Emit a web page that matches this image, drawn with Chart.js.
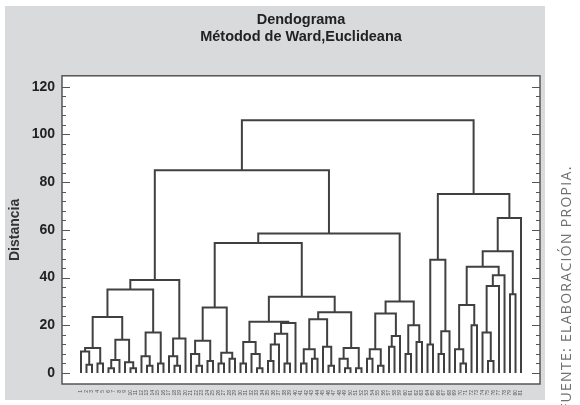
<!DOCTYPE html>
<html>
<head>
<meta charset="utf-8">
<script src="https://cdn.jsdelivr.net/npm/chart.js@4.4.0/dist/chart.umd.min.js"></script>
<style>
  html, body { margin: 0; padding: 0; background: #fff; }
  canvas { display: block; }
</style>
</head>
<body>
<canvas id="dendro" width="580" height="405"></canvas>
<script>
// clusters as [merge distance, left, right]; 0 is a single case
const c1 = [23.5, [10.5, [9, 0, [3.5, 0, 0]], [4, 0, 0]], [14, [5.5, [2, 0, 0], 0], [4.5, 0, [2, 0, 0]]]]
const c2 = [17, [7, 0, [3, 0, 0]], [4, 0, 0]]
const c3 = [14.5, [7, 0, [3, 0, 0]], 0]
const c4 = [27.5, [13.5, [8, 0, [3, 0, 0]], [5, 0, 0]], [8.5, [4, 0, 0], [6, 0, 0]]]
const c5 = [21.5, [13, [4, 0, 0], [8, 0, [2, 0, 0]]], [21, [16.5, [12, [5, 0, 0], 0], [4, 0, 0]], 0]]
const c6 = [25.5, [22.5, [10, [4, 0, 0], [6, 0, 0]], [11, 0, [3, 0, 0]]], [10.5, [6, 0, [2, 0, 0]], [2, 0, 0]]]
const c7a = [25, [10, [6, 0, 0], [3, 0, 0]], [15.5, [11, 0, 0], 0]]
const c7b = [20, [8, 0, 0], [13, 0, 0]]
const c8 = [47.5, [12, 0, 0], [17.5, [8, 0, 0], 0]]
const c9 = [28.5, [10, 0, [4, 0, 0]], [20, 0, 0]]
const c10 = [41, [36.5, [17, 0, [5, 0, 0]], 0], 0]
const c11 = [33, 0, 0]

const leftBranch = [85, [39, [35, c1, c2], c3], [58.5, [54.5, c4, [32, c5, c6]], [30, c7a, c7b]]]
const rightBranch = [75, c8, [65, [51, [44.5, c9, c10], c11], 0]]
const rootDistance = 106

const yTicks = [0, 20, 40, 60, 80, 100, 120]
const yMinorStep = 4

// walk the tree: leaves get consecutive x slots, each merge becomes a U line
const segments = []
const leafLabels = []
function layout(node) {
  if (node === 0) {
    leafLabels.push(String(leafLabels.length + 1))
    return { x: leafLabels.length - 1, y: 0 }
  }
  const [h, l, r] = node
  const a = layout(l)
  const b = layout(r)
  segments.push({ x: a.x, y: a.y }, { x: a.x, y: h }, { x: b.x, y: h }, { x: b.x, y: b.y }, { x: b.x, y: null })
  return { x: (a.x + b.x) / 2, y: h }
}
layout([rootDistance, leftBranch, rightBranch])
const nLeaves = leafLabels.length

const boldFont = '"Liberation Sans", Arial, sans-serif'

const frame = {
  id: 'frame',
  beforeDraw(chart) {
    const { ctx, chartArea: a } = chart
    ctx.save()
    ctx.fillStyle = '#d9dadb'
    ctx.fillRect(5, 6, 540, 394)
    ctx.fillStyle = '#fff'
    ctx.fillRect(a.left, a.top, a.right - a.left, a.bottom - a.top)
    ctx.restore()
  },
  afterDraw(chart) {
    const { ctx, chartArea: a, scales } = chart
    const y = scales.y
    ctx.save()
    ctx.strokeStyle = '#555'
    ctx.lineWidth = 1.5
    ctx.strokeRect(a.left, a.top, a.right - a.left, a.bottom - a.top)
    ctx.lineWidth = 1
    ctx.beginPath()
    for (let v = yTicks[0]; v <= yTicks[yTicks.length - 1]; v += yMinorStep) {
      const py = Math.round(y.getPixelForValue(v)) + 0.5
      const len = yTicks.includes(v) ? 8 : 4
      ctx.moveTo(a.left, py); ctx.lineTo(a.left + len, py)
      ctx.moveTo(a.right, py); ctx.lineTo(a.right - len, py)
    }
    ctx.stroke()
    // source note on the right margin
    ctx.translate(567, 411)
    ctx.rotate(-Math.PI / 2)
    ctx.font = '14px "Open Sans"'
    ctx.letterSpacing = '1.3px'
    ctx.fillStyle = '#707070'
    ctx.textBaseline = 'middle'
    ctx.fillText('FUENTE: ELABORACIÓN PROPIA.', 0, 0)
    ctx.restore()
  }
}

new Chart(document.getElementById('dendro'), {
  type: 'line',
  data: {
    datasets: [{
      data: segments,
      borderColor: '#404040',
      borderWidth: 2,
      pointRadius: 0,
      spanGaps: false,
      tension: 0
    }]
  },
  options: {
    responsive: false,
    animation: false,
    devicePixelRatio: 1,
    layout: { padding: { left: 5, right: 40, top: 5, bottom: 5 } },
    plugins: {
      legend: { display: false },
      tooltip: { enabled: false },
      title: {
        display: true,
        fullSize: false,
        text: ['Dendograma', 'Métodod de Ward,Euclideana'],
        color: '#222',
        font: { family: boldFont, size: 14.5, weight: 'bold', lineHeight: 1.2 },
        padding: { top: 6, bottom: 30 }
      }
    },
    scales: {
      x: {
        type: 'linear',
        min: -3.45,
        max: nLeaves - 1 + 3.45,
        afterFit: s => { s.height = 16 },
        afterBuildTicks: s => { s.ticks = leafLabels.map((_, i) => ({ value: i })) },
        grid: { display: false, drawTicks: false },
        border: { display: false },
        ticks: {
          autoSkip: false,
          minRotation: 90,
          maxRotation: 90,
          padding: 6,
          color: '#555',
          font: { size: 5 },
          callback: v => leafLabels[v]
        }
      },
      y: {
        min: -4.6,
        max: 124.6,
        afterFit: s => { s.width = 57 },
        afterBuildTicks: s => { s.ticks = yTicks.map(v => ({ value: v })) },
        grid: { display: false, drawTicks: false },
        border: { display: false },
        ticks: {
          padding: 7,
          color: '#222',
          font: { family: boldFont, size: 14, weight: 'bold' }
        },
        title: {
          display: true,
          text: 'Distancia',
          color: '#333',
          padding: { top: 2, bottom: 0 },
          font: { family: boldFont, size: 14, weight: 'bold' }
        }
      }
    }
  },
  plugins: [frame]
})
</script>
</body>
</html>
